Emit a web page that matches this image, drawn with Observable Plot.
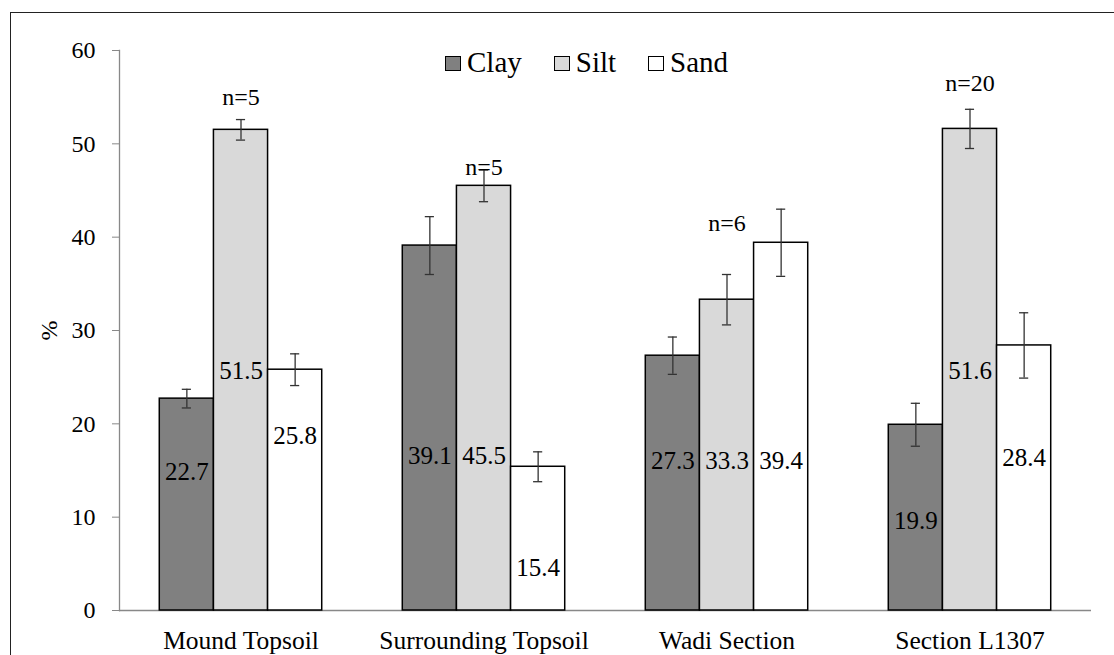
<!DOCTYPE html>
<html>
<head>
<meta charset="utf-8">
<script src="https://cdn.jsdelivr.net/npm/d3@7"></script>
<script src="https://cdn.jsdelivr.net/npm/@observablehq/plot@0.6"></script>
<style>
html, body { margin: 0; padding: 0; overflow: hidden; background: #fff; width: 1114px; height: 655px; }
#frame { position: absolute; left: 10px; top: 12px; width: 1200px; height: 700px; border: 1.5px solid #222; box-sizing: border-box; }
#chart { position: absolute; left: 0; top: 0; }
#legend { position: absolute; left: 445px; top: 46px; display: flex; gap: 32px; font-family: "Liberation Serif", "Times New Roman", serif; font-size: 29px; line-height: 32px; color: #000; }
#legend .item { display: flex; align-items: center; }
#legend .sw { width: 16px; height: 15px; border: 1.5px solid #000; box-sizing: border-box; margin-right: 6px; margin-top: 2px; }
</style>
</head>
<body>
<div id="frame"></div>
<div id="chart"></div>
<div id="legend"></div>
<script>
// ---- data ----
const sites = ["Mound Topsoil", "Surrounding Topsoil", "Wadi Section", "Section L1307"];
const fractions = ["Clay", "Silt", "Sand"];
const clay = [22.7, 39.1, 27.3, 19.9];
const silt = [51.5, 45.5, 33.3, 51.6];
const sand = [25.8, 15.4, 39.4, 28.4];
const clayErr = [1.0, 3.1, 2.0, 2.3];
const siltErr = [1.1, 1.7, 2.7, 2.1];
const sandErr = [1.7, 1.6, 3.6, 3.5];
const sampleN = [5, 5, 6, 20];
// label anchor heights (in % units) as placed in the reference
const nLabelY = [55.0, 47.5, 41.5, 56.5];
const clayLabelY = [14.8, 16.6, 16.0, 9.6];
const siltLabelY = [25.7, 16.6, 16.0, 25.7];
const sandLabelY = [18.75, 4.6, 16.0, 16.3];
const yTicks = [0, 10, 20, 30, 40, 50, 60];
const fills = ["#808080", "#d9d9d9", "#ffffff"];

const series = {
  Clay: {v: clay, e: clayErr, ly: clayLabelY},
  Silt: {v: silt, e: siltErr, ly: siltLabelY},
  Sand: {v: sand, e: sandErr, ly: sandLabelY}
};
const rows = [];
sites.forEach((s, i) => fractions.forEach(f => {
  const d = series[f];
  rows.push({site: s, fraction: f, value: d.v[i], lo: d.v[i] - d.e[i], hi: d.v[i] + d.e[i], labelY: d.ly[i]});
}));
const nRows = sites.map((s, i) => ({site: s, fraction: "Silt", n: sampleN[i], y: nLabelY[i]}));

const font = '"Liberation Serif", "Times New Roman", serif';

const chart = Plot.plot({
  width: 1114,
  height: 655,
  marginTop: 50,
  marginBottom: 45,
  marginLeft: 117,
  marginRight: 22,
  style: {fontFamily: font, fontSize: "24px", color: "#000", background: "transparent", overflow: "visible"},
  fx: {domain: sites, paddingInner: 0, paddingOuter: 0, label: null, axis: null},
  x: {domain: fractions, paddingInner: 0, paddingOuter: 0.744, round: false, axis: null},
  y: {domain: [0, 60], axis: null},
  color: {domain: fractions, range: fills},
  marks: [
    Plot.ruleY([0], {stroke: "#888", strokeWidth: 1.3}),
    Plot.frame({anchor: "left", facetAnchor: "left", stroke: "#888", strokeWidth: 1.3}),
    Plot.barY(rows, {fx: "site", x: "fraction", y: "value", fill: "fraction", stroke: "#000", strokeWidth: 1.5}),
    Plot.ruleX(rows, {fx: "site", x: "fraction", y1: "lo", y2: "hi", stroke: "#333", strokeWidth: 1.3}),
    Plot.tickY(rows, {fx: "site", x: "fraction", y: "lo", stroke: "#333", strokeWidth: 1.3, insetLeft: 22.5, insetRight: 22.5}),
    Plot.tickY(rows, {fx: "site", x: "fraction", y: "hi", stroke: "#333", strokeWidth: 1.3, insetLeft: 22.5, insetRight: 22.5}),
    Plot.text(rows, {fx: "site", x: "fraction", y: "labelY", text: d => d.value.toFixed(1), fontSize: 25, fontFamily: font, fill: "#000"}),
    Plot.text(nRows, {fx: "site", x: "fraction", y: "y", text: d => "n=" + d.n, fontSize: 24, fontFamily: font, fill: "#000"}),
    Plot.axisY({ticks: yTicks, tickSize: 7, tickPadding: 17, stroke: "#888", fill: "#000", fontSize: 24, fontFamily: font, label: "%", labelAnchor: "center", labelOffset: 80, labelArrow: "none"}),
    Plot.axisFx({anchor: "bottom", tickSize: 0, tickPadding: 20, fontSize: 25.5, fontFamily: font, fill: "#000", label: null})
  ]
});
document.getElementById("chart").appendChild(chart);

// legend
const legend = document.getElementById("legend");
fractions.forEach((f, i) => {
  const item = document.createElement("div");
  item.className = "item";
  const sw = document.createElement("div");
  sw.className = "sw";
  sw.style.background = fills[i];
  const t = document.createElement("span");
  t.textContent = f;
  item.appendChild(sw);
  item.appendChild(t);
  legend.appendChild(item);
});
</script>
</body>
</html>
